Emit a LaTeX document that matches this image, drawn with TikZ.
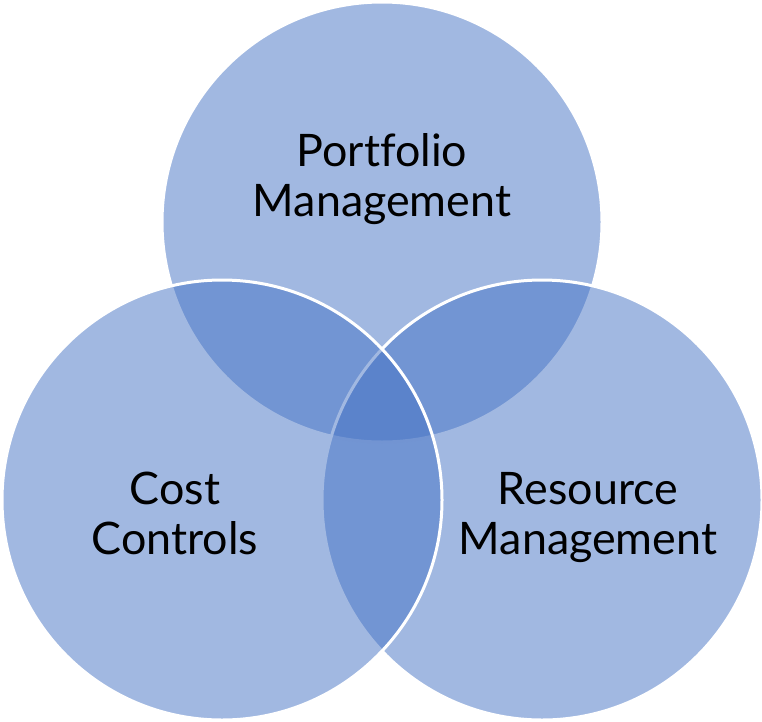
\documentclass[tikz,border=0pt]{standalone}
\usepackage{fontspec}
\setmainfont{Lato}[Ligatures=NoCommon]
\definecolor{accentblue}{HTML}{4472C4}
\begin{document}
\begin{tikzpicture}[x=0.75pt,y=-0.75pt,
  vcircle/.style={circle,draw=white,line width=2.25pt,fill=accentblue,fill opacity=0.5,draw opacity=1,minimum size=330pt,inner sep=0pt},
  vlabel/.style={align=center,anchor=base,inner sep=0pt,text=black,font=\fontsize{33.6pt}{37pt}\selectfont}]
\useasboundingbox (0,0) rectangle (762,721);
\node[vcircle] (top) at (382,222) {};
\node[vcircle] (right) at (542,500) {};
\node[vcircle] (left) at (222,500) {};
\node[vlabel] (tl) at (382,216) {Portfolio\\Management};
\node[vlabel] (ll) at (175,554) {Cost\\Controls};
\node[vlabel] (rl) at (588,554) {Resource\\Management};
\end{tikzpicture}
\end{document}
